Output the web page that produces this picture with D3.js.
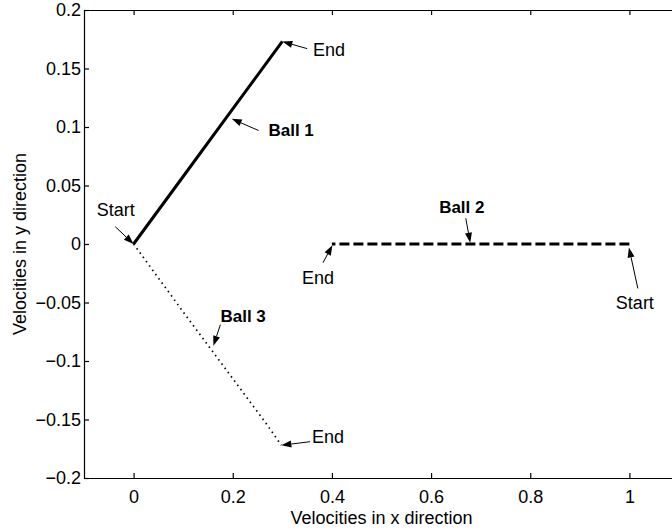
<!DOCTYPE html>
<meta charset="utf-8">
<script src="https://d3js.org/d3.v7.min.js"></script>
<style>
  body { margin: 0; background: #fff; }
  text { font-family: "Liberation Sans", Arial, sans-serif; }
</style>
<div id="my_dataviz"></div>
<script>

// data: velocity paths of the three balls
var ball1 = [[0, 0], [0.1, 0.0577], [0.2, 0.1155], [0.3, 0.1732]];
var ball2 = [[1, 0], [0.8, 0], [0.6, 0], [0.4, 0]];
var ball3 = [[0, 0], [0.1, -0.058], [0.2, -0.115], [0.27, -0.155], [0.298, -0.172]];

var xTicks = [0, 0.2, 0.4, 0.6, 0.8, 1];
var yTicks = [-0.2, -0.15, -0.1, -0.05, 0, 0.05, 0.1, 0.15, 0.2];

// annotations: label, text position, arrow tail, arrow tip, bold, anchor
var notes = [
  { label: "Start",  text: [-0.036, 0.029], tail: [-0.037, 0.0148], tip: [0, 0], bold: false, anchor: "middle" },
  { label: "End",    text: [0.362, 0.166],  tail: [0.35, 0.167],    tip: [0.3, 0.173], bold: false, anchor: "start" },
  { label: "Ball 1", text: [0.272, 0.0975], tail: [0.252, 0.097],   tip: [0.198, 0.107], bold: true, anchor: "start" },
  { label: "Ball 2", text: [0.662, 0.032],  tail: [0.67, 0.022],    tip: [0.679, 0.001], bold: true, anchor: "middle" },
  { label: "End",    text: [0.372, -0.029], tail: [0.382, -0.016],  tip: [0.401, -0.001], bold: false, anchor: "middle" },
  { label: "Start",  text: [1.011, -0.05],  tail: [1.017, -0.038],  tip: [0.999, -0.003], bold: false, anchor: "middle" },
  { label: "Ball 3", text: [0.221, -0.062], tail: [0.175, -0.069],  tip: [0.161, -0.087], bold: true, anchor: "middle" },
  { label: "End",    text: [0.36, -0.165],  tail: [0.356, -0.169],  tip: [0.298, -0.172], bold: false, anchor: "start" }
];

var W = 672, H = 531;
var margin = {top: 10, right: -7, bottom: 53, left: 84};
var width = W - margin.left - margin.right,
    height = H - margin.top - margin.bottom;
var fs = 18;

var svg = d3.select("#my_dataviz")
  .append("svg")
    .attr("width", W)
    .attr("height", H)
  .append("g")
    .attr("transform", "translate(" + margin.left + "," + margin.top + ")");

var x = d3.scaleLinear().domain([-0.1, 1.1]).range([0, width]);
var y = d3.scaleLinear().domain([-0.2, 0.2]).range([height, 0]);

var fmt = function(d) { return d < 0 ? "\u2212" + String(-d) : String(d); };

// axes, matlab style: ticks pointing inward
var axB = svg.append("g").attr("transform", "translate(0," + height + ")")
  .call(d3.axisBottom(x).tickValues(xTicks).tickSizeInner(-5).tickSizeOuter(0).tickPadding(12).tickFormat(fmt));
var axT = svg.append("g")
  .call(d3.axisTop(x).tickValues(xTicks).tickSizeInner(-5).tickSizeOuter(0).tickFormat(""));
var axL = svg.append("g")
  .call(d3.axisLeft(y).tickValues(yTicks).tickSizeInner(-5).tickSizeOuter(0).tickPadding(3).tickFormat(fmt));
var axR = svg.append("g").attr("transform", "translate(" + width + ",0)")
  .call(d3.axisRight(y).tickValues(yTicks).tickSizeInner(-5).tickSizeOuter(0).tickFormat(""));

[axB, axT, axL, axR].forEach(function(a) {
  a.selectAll("path, line").attr("stroke", "#000").attr("stroke-width", 1.2);
  a.selectAll("text").attr("font-size", fs).attr("fill", "#000")
    .style("font-family", "Liberation Sans, Arial, sans-serif");
});

// axis labels
svg.append("text")
  .attr("x", x(0.5))
  .attr("y", height + 40)
  .attr("dy", "0.35em")
  .attr("text-anchor", "middle")
  .attr("font-size", fs)
  .text("Velocities in x direction");

svg.append("text")
  .attr("transform", "translate(" + (-64) + "," + (height / 2) + ")rotate(-90)")
  .attr("dy", "0.35em")
  .attr("text-anchor", "middle")
  .attr("font-size", fs)
  .text("Velocities in y direction");

// lines
var line = d3.line().x(function(d) { return x(d[0]); }).y(function(d) { return y(d[1]); });

svg.append("path").datum(ball1)
  .attr("d", line).attr("fill", "none").attr("stroke", "#000").attr("stroke-width", 3);

svg.append("path").datum(ball2)
  .attr("d", line).attr("fill", "none").attr("stroke", "#000").attr("stroke-width", 3)
  .attr("stroke-dasharray", "10,4");

svg.append("path").datum(ball3)
  .attr("d", line).attr("fill", "none").attr("stroke", "#000").attr("stroke-width", 1.7)
  .attr("stroke-dasharray", "1.5,3.8");

// annotation arrows
var headLen = 10, headW = 3.5;
notes.forEach(function(n) {
  var x0 = x(n.tail[0]), y0 = y(n.tail[1]), x1 = x(n.tip[0]), y1 = y(n.tip[1]);
  var dx = x1 - x0, dy = y1 - y0, L = Math.sqrt(dx * dx + dy * dy);
  var ux = dx / L, uy = dy / L;
  var bx = x1 - ux * headLen, by = y1 - uy * headLen;
  svg.append("line")
    .attr("x1", x0).attr("y1", y0).attr("x2", bx).attr("y2", by)
    .attr("stroke", "#000").attr("stroke-width", 1);
  svg.append("path")
    .attr("d", "M" + x1 + "," + y1 +
      "L" + (bx - uy * headW) + "," + (by + ux * headW) +
      "L" + (bx + uy * headW) + "," + (by - ux * headW) + "Z")
    .attr("fill", "#000");
  svg.append("text")
    .attr("x", x(n.text[0]))
    .attr("y", y(n.text[1]))
    .attr("dy", "0.35em")
    .attr("text-anchor", n.anchor)
    .attr("font-size", n.bold ? 17 : fs)
    .attr("font-weight", n.bold ? "bold" : "normal")
    .text(n.label);
});

</script>
